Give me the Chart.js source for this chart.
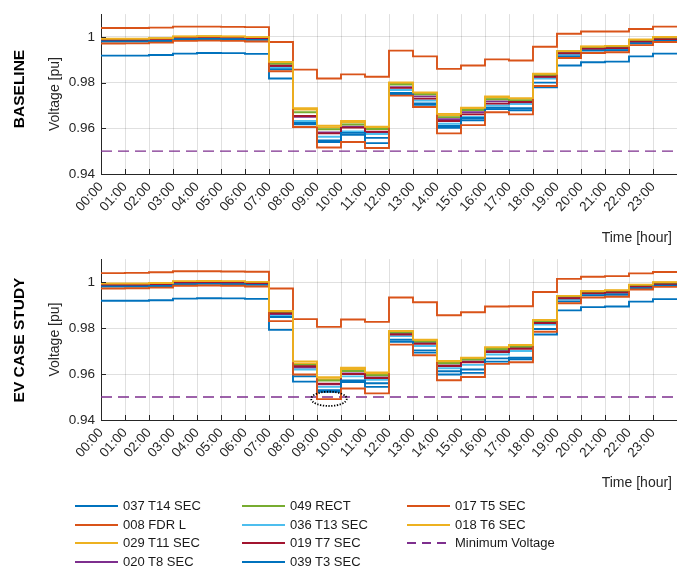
<!DOCTYPE html>
<html><head><meta charset="utf-8">
<script src="https://cdn.jsdelivr.net/npm/chart.js@4/dist/chart.umd.min.js"></script>
<style>
body{margin:0;background:#fff;width:677px;height:573px;overflow:hidden;position:relative;font-family:"Liberation Sans",Arial,sans-serif;}
canvas{position:absolute;left:0;}
.vt{position:absolute;width:220px;height:20px;line-height:20px;text-align:center;transform:rotate(-90deg);white-space:nowrap;font-weight:bold;font-size:15.5px;color:#000;}
.xt{position:absolute;right:5px;font-size:14px;color:#262626;white-space:nowrap;line-height:16px;}
.lg{position:absolute;height:16px;line-height:16px;font-size:13px;color:#1a1a1a;white-space:nowrap;}
.lg i{position:absolute;left:0;top:7px;width:43px;height:2px;}
.lg span{position:absolute;left:48px;top:0;}
</style>
</head><body>
<canvas id="c1" width="677" height="248" style="top:0;width:677px;height:248px"></canvas>
<canvas id="c2" width="677" height="248" style="top:245px;width:677px;height:248px"></canvas>
<div class="vt" style="left:-91px;top:79px">BASELINE</div>
<div class="vt" style="left:-91px;top:330px">EV CASE STUDY</div>
<div class="xt" style="top:229px">Time [hour]</div>
<div class="xt" style="top:474px">Time [hour]</div>
<div id="legend"></div>
<script>
const hours = [0,1,2,3,4,5,6,7,8,9,10,11,12,13,14,15,16,17,18,19,20,21,22,23];
const timeLabels = ['00:00','01:00','02:00','03:00','04:00','05:00','06:00','07:00','08:00','09:00','10:00','11:00','12:00','13:00','14:00','15:00','16:00','17:00','18:00','19:00','20:00','21:00','22:00','23:00'];
const yTicks = [0.94,0.96,0.98,1.00];
const minVoltage = 0.95;

const seriesNames = ['037 T14 SEC','008 FDR L','029 T11 SEC','020 T8 SEC','049 RECT','036 T13 SEC','019 T7 SEC','039 T3 SEC','017 T5 SEC','018 T6 SEC'];
const seriesColors = ['#0072BD','#D95319','#EDB120','#7E2F8E','#77AC30','#4DBEEE','#A2142F','#0072BD','#D95319','#EDB120'];

// BASELINE
const base037 = [0.9918,0.9918,0.9921,0.9927,0.9930,0.9929,0.9926,0.9818,0.9618,0.9540,0.9572,0.9535,0.9750,0.9703,0.9602,0.9635,0.9684,0.9679,0.9780,0.9875,0.9889,0.9892,0.9915,0.9927];
const base008 = [1.0039,1.0039,1.0041,1.0045,1.0045,1.0044,1.0043,0.9978,0.9857,0.9818,0.9836,0.9826,0.9940,0.9915,0.9860,0.9875,0.9902,0.9897,0.9957,1.0014,1.0024,1.0024,1.0035,1.0045];
const base029 = [0.9991,0.9991,0.9993,1.0001,1.0002,1.0001,0.9998,0.9887,0.9682,0.9604,0.9626,0.9602,0.9797,0.9753,0.9657,0.9686,0.9735,0.9729,0.9836,0.9937,0.9957,0.9960,0.9987,0.9998];
const base020 = [0.9985,0.9985,0.9987,0.9995,0.9996,0.9995,0.9992,0.9870,0.9650,0.9582,0.9607,0.9580,0.9780,0.9740,0.9640,0.9670,0.9718,0.9712,0.9826,0.9930,0.9950,0.9953,0.9981,0.9992];
const base049 = [0.9990,0.9990,0.9992,1.0000,1.0001,1.0000,0.9997,0.9882,0.9670,0.9596,0.9617,0.9597,0.9792,0.9749,0.9649,0.9680,0.9727,0.9722,0.9833,0.9936,0.9954,0.9957,0.9985,0.9996];
const base036 = [0.9983,0.9983,0.9985,0.9993,0.9994,0.9993,0.9990,0.9864,0.9632,0.9563,0.9586,0.9575,0.9768,0.9722,0.9620,0.9650,0.9700,0.9706,0.9818,0.9922,0.9944,0.9946,0.9975,0.9986];
const base019 = [0.9986,0.9986,0.9988,0.9996,0.9997,0.9996,0.9993,0.9874,0.9654,0.9578,0.9603,0.9585,0.9777,0.9730,0.9632,0.9661,0.9708,0.9715,0.9826,0.9928,0.9948,0.9951,0.9979,0.9989];
const base039 = [0.9980,0.9980,0.9982,0.9990,0.9991,0.9990,0.9987,0.9858,0.9623,0.9547,0.9580,0.9558,0.9755,0.9709,0.9610,0.9645,0.9690,0.9688,0.9800,0.9915,0.9940,0.9942,0.9972,0.9983];
const base017 = [0.9971,0.9972,0.9975,0.9983,0.9984,0.9983,0.9980,0.9850,0.9606,0.9516,0.9540,0.9514,0.9743,0.9693,0.9578,0.9614,0.9670,0.9661,0.9785,0.9908,0.9930,0.9933,0.9964,0.9978];
const base018 = [0.9992,0.9992,0.9994,1.0002,1.0003,1.0002,0.9999,0.9891,0.9688,0.9611,0.9632,0.9607,0.9801,0.9757,0.9663,0.9690,0.9739,0.9732,0.9839,0.9938,0.9958,0.9961,0.9989,1.0000];

// EV CASE STUDY
const ev037 = [0.9919,0.9919,0.9921,0.9928,0.9930,0.9929,0.9927,0.9792,0.9567,0.9523,0.9565,0.9544,0.9740,0.9693,0.9598,0.9605,0.9654,0.9664,0.9772,0.9877,0.9891,0.9894,0.9915,0.9926];
const ev008 = [1.0039,1.0040,1.0043,1.0047,1.0047,1.0046,1.0045,0.9972,0.9839,0.9805,0.9837,0.9827,0.9933,0.9912,0.9856,0.9869,0.9894,0.9895,0.9957,1.0014,1.0023,1.0026,1.0038,1.0044];
const ev029 = [0.9992,0.9992,0.9994,1.0002,1.0003,1.0002,0.9999,0.9871,0.9646,0.9578,0.9622,0.9600,0.9783,0.9745,0.9652,0.9667,0.9713,0.9723,0.9833,0.9939,0.9960,0.9963,0.9987,0.9998];
const ev020 = [0.9986,0.9986,0.9988,0.9996,0.9997,0.9996,0.9993,0.9858,0.9628,0.9555,0.9603,0.9585,0.9775,0.9736,0.9637,0.9655,0.9700,0.9713,0.9826,0.9933,0.9953,0.9957,0.9982,0.9993];
const ev049 = [0.9991,0.9991,0.9993,1.0001,1.0002,1.0001,0.9998,0.9868,0.9640,0.9572,0.9613,0.9595,0.9780,0.9741,0.9647,0.9663,0.9708,0.9719,0.9830,0.9937,0.9957,0.9961,0.9985,0.9996];
const ev036 = [0.9984,0.9984,0.9986,0.9994,0.9995,0.9994,0.9991,0.9853,0.9620,0.9544,0.9590,0.9575,0.9765,0.9722,0.9625,0.9640,0.9685,0.9700,0.9815,0.9925,0.9947,0.9950,0.9976,0.9987];
const ev019 = [0.9987,0.9987,0.9989,0.9997,0.9998,0.9997,0.9994,0.9864,0.9634,0.9558,0.9600,0.9583,0.9772,0.9731,0.9635,0.9651,0.9696,0.9710,0.9822,0.9930,0.9951,0.9955,0.9980,0.9990];
const ev039 = [0.9981,0.9981,0.9983,0.9991,0.9992,0.9991,0.9988,0.9848,0.9590,0.9530,0.9572,0.9560,0.9749,0.9703,0.9612,0.9620,0.9668,0.9671,0.9796,0.9916,0.9942,0.9945,0.9973,0.9984];
const ev017 = [0.9972,0.9973,0.9976,0.9984,0.9985,0.9984,0.9981,0.9830,0.9598,0.9491,0.9537,0.9516,0.9728,0.9682,0.9573,0.9587,0.9644,0.9651,0.9784,0.9908,0.9933,0.9936,0.9968,0.9979];
const ev018 = [0.9994,0.9994,0.9996,1.0004,1.0005,1.0004,1.0001,0.9874,0.9655,0.9586,0.9628,0.9607,0.9787,0.9749,0.9657,0.9671,0.9717,0.9726,0.9835,0.9940,0.9961,0.9965,0.9989,1.0000];

const baseSeries = [base037,base008,base029,base020,base049,base036,base019,base039,base017,base018];
const evSeries = [ev037,ev008,ev029,ev020,ev049,ev036,ev019,ev039,ev017,ev018];

const AXIS = '#262626';
Chart.defaults.font.family = '"Liberation Sans", Arial, sans-serif';
Chart.defaults.color = AXIS;

function stairs(vals){
  const pts = hours.map((h,i)=>({x:h,y:vals[i]}));
  pts.push({x:24,y:vals[vals.length-1]}); // close the last stair step
  return pts;
}

const inwardTicks = {
  id:'inwardTicks',
  afterDraw(chart){
    const {ctx, chartArea:a, scales:{x,y}} = chart;
    ctx.save();
    ctx.strokeStyle = AXIS; ctx.lineWidth = 1;
    ctx.beginPath();
    hours.forEach(h=>{const px=Math.round(x.getPixelForValue(h))+0.5; ctx.moveTo(px,a.bottom); ctx.lineTo(px,a.bottom-5);});
    yTicks.forEach(v=>{const py=Math.round(y.getPixelForValue(v))+0.5; ctx.moveTo(a.left,py); ctx.lineTo(a.left+5,py);});
    ctx.stroke();
    ctx.restore();
  }
};

const ellipseMark = {
  id:'ellipseMark',
  afterDatasetsDraw(chart, args, opts){
    if(!opts || !opts.show) return;
    const {ctx, scales:{x,y}} = chart;
    const cx = x.getPixelForValue(opts.x), cy = y.getPixelForValue(opts.y);
    const rx = Math.abs(x.getPixelForValue(opts.x+opts.dx)-cx);
    const ry = Math.abs(y.getPixelForValue(opts.y+opts.dy)-cy);
    ctx.save();
    ctx.strokeStyle = '#000'; ctx.lineWidth = 1.8; ctx.setLineDash([1.3,1.5]);
    ctx.beginPath(); ctx.ellipse(cx,cy,rx,ry,0,0,Math.PI*2); ctx.stroke();
    ctx.restore();
  }
};

function makeChart(id, seriesVals, padTop, xAxisH, ellipse){
  const datasets = seriesVals.map((vals,i)=>({
    label: seriesNames[i],
    data: stairs(vals),
    borderColor: seriesColors[i],
    borderWidth: 1.9,
    stepped: 'before',
    pointRadius: 0,
    fill: false,
    order: 20 - i
  }));
  datasets.push({
    label:'Minimum Voltage',
    data:[{x:0,y:minVoltage},{x:24,y:minVoltage}],
    borderColor:'#7E2F8E', borderWidth:1.3, borderDash:[11,6], pointRadius:0, fill:false, order:30
  });
  return new Chart(document.getElementById(id), {
    type:'line',
    data:{datasets},
    options:{
      responsive:false, animation:false, devicePixelRatio:1,
      layout:{padding:{left:43, top:padTop, right:0, bottom:0}},
      plugins:{legend:{display:false}, tooltip:{enabled:false}, ellipseMark: ellipse || {show:false}},
      scales:{
        x:{
          type:'linear', min:0, max:24,
          afterBuildTicks(s){ s.ticks = hours.map(h=>({value:h})); },
          afterFit(s){ s.height = xAxisH; },
          ticks:{ autoSkip:false, minRotation:48, maxRotation:48, padding:5, font:{size:13.5}, color:AXIS,
                  callback:(v)=>timeLabels[v] },
          grid:{ color:'rgba(0,0,0,0.12)', drawTicks:false, tickLength:0 },
          border:{ color:AXIS, width:1 }
        },
        y:{
          type:'linear', min:0.94, max:1.01,
          afterBuildTicks(s){ s.ticks = yTicks.map(v=>({value:v})); },
          afterFit(s){ s.width = 58; },
          ticks:{ padding:6, font:{size:13.5}, color:AXIS,
                  callback:(v)=> Math.abs(v-1)<1e-9 ? '1' : v.toFixed(2) },
          grid:{ color:'rgba(0,0,0,0.12)', drawTicks:false, tickLength:0 },
          border:{ color:AXIS, width:1 },
          title:{ display:true, text:'Voltage [pu]', font:{size:14}, color:AXIS, padding:{top:4,bottom:4} }
        }
      }
    },
    plugins:[inwardTicks, ellipseMark]
  });
}

makeChart('c1', baseSeries, 7, 74, null);
makeChart('c2', evSeries, 8, 73, {show:true, x:9.5, y:0.9492, dx:0.74, dy:0.0031});

// Legend (column-major, 3 columns x 4 rows)
const legendItems = seriesNames.map((n,i)=>({name:n,color:seriesColors[i],dash:false}));
legendItems.push({name:'Minimum Voltage',color:'#7E2F8E',dash:true});
const colX = [75, 242, 407];
const rowY = [498, 517, 535, 554];
const lg = document.getElementById('legend');
legendItems.forEach((it,k)=>{
  const c = Math.floor(k/4), r = k%4;
  const d = document.createElement('div');
  d.className='lg';
  d.style.left = colX[c]+'px'; d.style.top = rowY[r]+'px';
  const line = document.createElement('i');
  if(it.dash){
    line.style.height='1.5px';
    line.style.background = 'repeating-linear-gradient(to right,'+it.color+' 0 9px,transparent 9px 15px)';
  } else {
    line.style.background = it.color;
  }
  const sp = document.createElement('span'); sp.textContent = it.name;
  d.appendChild(line); d.appendChild(sp);
  lg.appendChild(d);
});
</script>
</body></html>
